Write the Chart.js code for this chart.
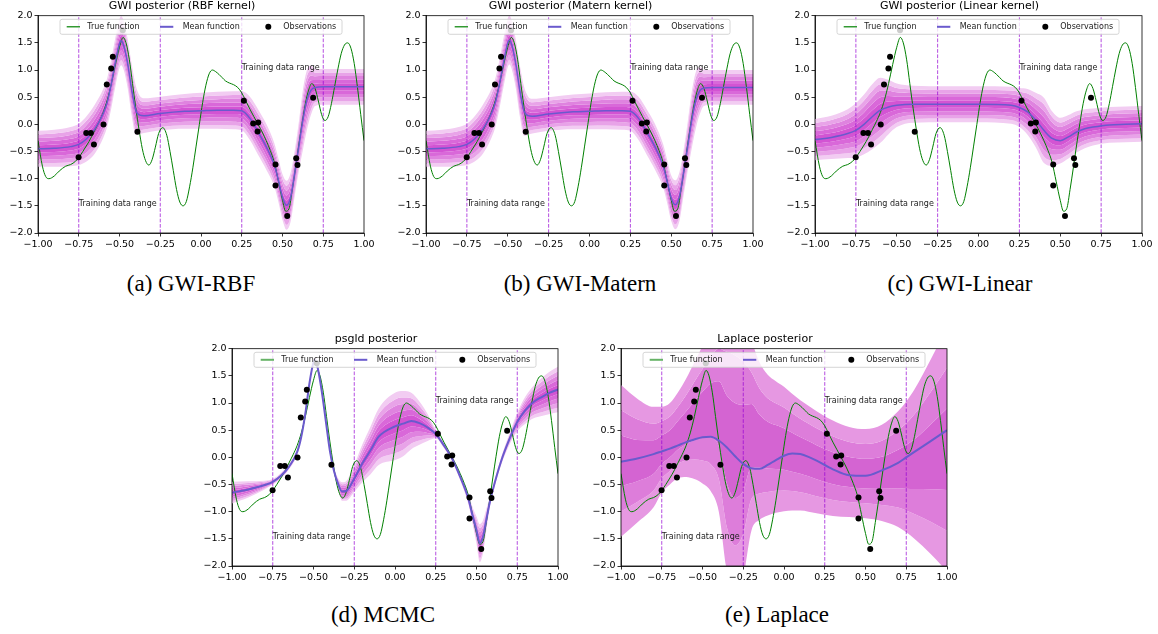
<!DOCTYPE html>
<html>
<head>
<meta charset="utf-8">
<script src="https://cdn.jsdelivr.net/npm/chart.js@4.4.0/dist/chart.umd.min.js"></script>
<style>
  body { margin: 0; background: #fff; width: 1158px; height: 634px; position: relative; overflow: hidden; }
  canvas { position: absolute; }
  .cap { position: absolute; font-family: "Liberation Serif", "Times New Roman", serif; font-size: 23px; line-height: 23px; color: #000; white-space: nowrap; transform: translateX(-50%); }
</style>
</head>
<body>
<canvas id="pa" width="380" height="251" style="left:0px;top:0px"></canvas>
<canvas id="pb" width="381" height="251" style="left:388px;top:0px"></canvas>
<canvas id="pc" width="381" height="251" style="left:777px;top:0px"></canvas>
<canvas id="pd" width="380" height="251" style="left:194px;top:333px"></canvas>
<canvas id="pe" width="380" height="251" style="left:583px;top:333px"></canvas>

<div class="cap" style="left:191px;top:272px">(a) GWI-RBF</div>
<div class="cap" style="left:580px;top:272px">(b) GWI-Matern</div>
<div class="cap" style="left:960px;top:272px">(c) GWI-Linear</div>
<div class="cap" style="left:383px;top:603px">(d) MCMC</div>
<div class="cap" style="left:777px;top:603px">(e) Laplace</div>

<script>
// ---- data ----

// true function (green)
var tfX = [-1, -0.973, -0.953, -0.933, -0.9, -0.87, -0.83, -0.8, -0.77, -0.75, -0.725, -0.7, -0.675, -0.65, -0.625, -0.6, -0.575, -0.55, -0.525, -0.5, -0.478, -0.46, -0.44, -0.42, -0.4, -0.38, -0.36, -0.34, -0.32, -0.3, -0.28, -0.26, -0.235, -0.21, -0.19, -0.17, -0.15, -0.13, -0.11, -0.09, -0.07, -0.05, -0.03, -0.01, 0.01, 0.03, 0.05, 0.07, 0.09, 0.11, 0.13, 0.15, 0.175, 0.2, 0.225, 0.25, 0.275, 0.3, 0.325, 0.35, 0.375, 0.4, 0.425, 0.45, 0.475, 0.5, 0.52, 0.54, 0.56, 0.58, 0.6, 0.62, 0.64, 0.66, 0.68, 0.7, 0.72, 0.74, 0.76, 0.78, 0.8, 0.82, 0.84, 0.86, 0.88, 0.9, 0.92, 0.94, 0.96, 0.98, 1.0];
var tfY = [-0.3, -0.77, -0.96, -1.0, -0.95, -0.86, -0.77, -0.74, -0.68, -0.61, -0.5, -0.38, -0.25, -0.1, 0.05, 0.22, 0.45, 0.75, 1.1, 1.42, 1.6, 1.5, 1.2, 0.75, 0.3, -0.1, -0.45, -0.67, -0.75, -0.65, -0.42, -0.17, -0.06, -0.2, -0.5, -0.85, -1.2, -1.43, -1.5, -1.42, -1.15, -0.8, -0.4, 0.0, 0.4, 0.72, 0.93, 1.0, 0.97, 0.92, 0.86, 0.8, 0.76, 0.73, 0.68, 0.58, 0.43, 0.28, 0.14, 0.0, -0.14, -0.3, -0.48, -0.7, -1.05, -1.4, -1.6, -1.55, -1.2, -0.8, -0.38, 0.02, 0.38, 0.63, 0.75, 0.66, 0.43, 0.18, 0.07, 0.14, 0.38, 0.7, 1.02, 1.3, 1.46, 1.5, 1.4, 1.12, 0.68, 0.18, -0.3];

// observations (black dots)
var obsX = [-0.751, -0.704, -0.676, -0.657, -0.598, -0.578, -0.551, -0.541, -0.480, -0.390, 0.263, 0.320, 0.351, 0.347, 0.457, 0.457, 0.529, 0.584, 0.592, 0.688];
var obsY = [-0.605, -0.157, -0.157, -0.372, -0.003, 0.734, 1.029, 1.244, 1.730, -0.138, 0.433, 0.015, 0.034, -0.132, -0.740, -1.127, -1.687, -0.624, -0.747, 0.488];

// GWI RBF kernel: mean and outer band half-width
var rbfX = [-1, -0.9, -0.8, -0.75, -0.7, -0.65, -0.6, -0.575, -0.55, -0.525, -0.5, -0.49, -0.475, -0.45, -0.425, -0.4, -0.375, -0.35, -0.25, -0.1, 0, 0.1, 0.2, 0.25, 0.3, 0.35, 0.4, 0.45, 0.475, 0.5, 0.525, 0.55, 0.575, 0.6, 0.625, 0.65, 0.675, 0.7, 0.75, 0.85, 1.0];
var rbfMean = [-0.45, -0.44, -0.41, -0.37, -0.26, -0.08, 0.2, 0.41, 0.75, 1.15, 1.49, 1.54, 1.46, 1.12, 0.63, 0.26, 0.17, 0.16, 0.2, 0.24, 0.25, 0.26, 0.26, 0.25, 0.11, -0.14, -0.41, -0.75, -1.03, -1.34, -1.49, -1.34, -0.9, -0.41, 0.08, 0.45, 0.63, 0.68, 0.69, 0.69, 0.69];
var rbfSd = [0.33, 0.34, 0.36, 0.38, 0.42, 0.45, 0.45, 0.45, 0.45, 0.45, 0.45, 0.45, 0.45, 0.45, 0.47, 0.45, 0.35, 0.32, 0.31, 0.32, 0.33, 0.34, 0.35, 0.36, 0.4, 0.42, 0.42, 0.4, 0.4, 0.42, 0.45, 0.45, 0.42, 0.45, 0.55, 0.55, 0.45, 0.34, 0.33, 0.33, 0.33];

// GWI Matern kernel
var matX = [-1, -0.9, -0.8, -0.75, -0.7, -0.65, -0.6, -0.575, -0.55, -0.525, -0.5, -0.49, -0.475, -0.45, -0.425, -0.4, -0.375, -0.35, -0.25, -0.1, 0, 0.1, 0.2, 0.25, 0.3, 0.35, 0.4, 0.45, 0.475, 0.5, 0.525, 0.55, 0.575, 0.6, 0.625, 0.65, 0.675, 0.7, 0.75, 0.85, 1.0];
var matMean = [-0.45, -0.44, -0.41, -0.37, -0.26, -0.08, 0.2, 0.41, 0.75, 1.15, 1.5, 1.55, 1.46, 1.1, 0.6, 0.24, 0.16, 0.15, 0.19, 0.23, 0.24, 0.25, 0.25, 0.24, 0.11, -0.14, -0.41, -0.76, -1.05, -1.36, -1.48, -1.33, -0.9, -0.42, 0.07, 0.44, 0.62, 0.67, 0.68, 0.68, 0.68];
var matSd = [0.33, 0.34, 0.36, 0.38, 0.42, 0.45, 0.45, 0.45, 0.45, 0.45, 0.45, 0.45, 0.45, 0.45, 0.47, 0.45, 0.35, 0.32, 0.31, 0.32, 0.33, 0.34, 0.35, 0.36, 0.4, 0.42, 0.42, 0.4, 0.4, 0.42, 0.45, 0.45, 0.42, 0.45, 0.52, 0.52, 0.43, 0.33, 0.32, 0.32, 0.32];

// GWI Linear kernel
var linX = [-1, -0.9, -0.8, -0.75, -0.7, -0.65, -0.6, -0.55, -0.5, -0.4, -0.2, 0, 0.2, 0.25, 0.3, 0.35, 0.4, 0.45, 0.5, 0.55, 0.6, 0.65, 0.7, 0.8, 0.9, 1.0];
var linMean = [-0.28, -0.24, -0.17, -0.11, 0.0, 0.14, 0.26, 0.32, 0.35, 0.37, 0.37, 0.37, 0.35, 0.31, 0.23, 0.08, -0.11, -0.26, -0.3, -0.23, -0.14, -0.08, -0.05, -0.01, 0.0, 0.01];
var linSd = [0.38, 0.4, 0.45, 0.5, 0.55, 0.6, 0.6, 0.5, 0.4, 0.34, 0.33, 0.33, 0.34, 0.36, 0.42, 0.5, 0.6, 0.5, 0.42, 0.4, 0.38, 0.36, 0.34, 0.33, 0.33, 0.33];

// psgld (MCMC)
var psX = [-1, -0.9, -0.8, -0.75, -0.7, -0.65, -0.6, -0.575, -0.55, -0.525, -0.5, -0.49, -0.475, -0.45, -0.425, -0.4, -0.375, -0.35, -0.325, -0.3, -0.25, -0.2, -0.15, -0.1, 0, 0.05, 0.1, 0.15, 0.2, 0.25, 0.3, 0.35, 0.4, 0.45, 0.475, 0.5, 0.52, 0.54, 0.56, 0.58, 0.6, 0.65, 0.7, 0.75, 0.8, 0.85, 0.9, 0.95, 1.0];
var psMean = [-0.65, -0.59, -0.51, -0.45, -0.34, -0.17, 0.1, 0.38, 0.81, 1.36, 1.75, 1.79, 1.66, 1.23, 0.68, 0.13, -0.24, -0.48, -0.63, -0.62, -0.39, -0.11, 0.13, 0.38, 0.57, 0.62, 0.67, 0.63, 0.55, 0.43, 0.22, -0.02, -0.36, -0.76, -1.06, -1.34, -1.58, -1.46, -1.15, -0.85, -0.6, -0.08, 0.32, 0.65, 0.87, 1.02, 1.11, 1.19, 1.25];
var psSd = [0.2, 0.15, 0.08, 0.05, 0.05, 0.05, 0.05, 0.05, 0.05, 0.05, 0.05, 0.05, 0.05, 0.05, 0.05, 0.05, 0.06, 0.1, 0.17, 0.18, 0.25, 0.35, 0.44, 0.52, 0.62, 0.6, 0.52, 0.4, 0.25, 0.08, 0.05, 0.05, 0.06, 0.1, 0.15, 0.25, 0.35, 0.3, 0.2, 0.1, 0.07, 0.07, 0.1, 0.17, 0.25, 0.3, 0.35, 0.39, 0.42];

// Laplace: mean and outer band edges
var lapX = [-1, -0.9, -0.8, -0.75, -0.7, -0.65, -0.6, -0.55, -0.5, -0.45, -0.4, -0.35, -0.3, -0.25, -0.2, -0.15, -0.1, -0.05, 0, 0.05, 0.1, 0.15, 0.2, 0.3, 0.4, 0.5, 0.6, 0.7, 0.75, 0.8, 0.9, 1.0];
var lapMean = [-0.08, -0.02, 0.06, 0.11, 0.16, 0.22, 0.28, 0.33, 0.37, 0.38, 0.31, 0.18, 0.02, -0.12, -0.2, -0.21, -0.14, -0.05, 0.03, 0.07, 0.06, 0.01, -0.06, -0.22, -0.33, -0.34, -0.24, -0.1, 0.0, 0.1, 0.3, 0.5];
var lapUpper = [1.33, 1.08, 0.93, 0.93, 1.0, 1.2, 1.45, 1.75, 2.05, 2.35, 2.6, 2.75, 2.75, 2.55, 2.15, 1.75, 1.52, 1.4, 1.3, 1.17, 1.05, 0.95, 0.85, 0.68, 0.56, 0.52, 0.6, 0.85, 1.03, 1.25, 1.8, 2.4];
var lapLower = [-1.46, -1.2, -0.92, -0.65, -0.5, -0.38, -0.36, -0.4, -0.48, -0.62, -1.0, -2.1, -2.5, -2.2, -1.35, -1.15, -1.07, -1.02, -0.99, -0.98, -0.98, -1.0, -1.03, -1.08, -1.1, -1.12, -1.17, -1.28, -1.38, -1.5, -1.78, -2.1];

// training range markers and labels
var rangeEdges = [-0.75, -0.25, 0.25, 0.75];
var rangeLabels = [[-0.75, -1.5], [0.25, 1.0]];

// ---- styles ----
var GREEN = '#008000';
var MEAN = '#6a5acd';
var VLINE = 'rgba(148,0,211,0.7)';

function layerColours(base, alpha, n) {
  var out = [];
  for (var d = 1; d <= n; d++) {
    var k = 1 - Math.pow(1 - alpha, d);
    out.push('rgb(' + base.map(function (c) { return Math.round(255 - (255 - c) * k); }).join(',') + ')');
  }
  return out;
}
var gwiColours = layerColours([190, 0, 190], 0.2, 5);
var gwiMults = [1, 0.8, 0.6, 0.4, 0.2];
var lapColours = ['rgb(230,152,226)', 'rgb(221,125,218)', 'rgb(212,100,210)'];
var lapMults = [1, 2 / 3, 1 / 3];

Chart.defaults.font.family = "'DejaVu Sans', sans-serif";
Chart.defaults.color = '#000';
Chart.defaults.animation = false;
Chart.defaults.events = [];
Chart.defaults.plugins.legend.display = false;
Chart.defaults.plugins.tooltip.enabled = false;

function pts(xs, ys) {
  return xs.map(function (x, i) { return { x: x, y: ys[i] }; });
}

function edge(xs, ys, colour, fill) {
  return {
    data: pts(xs, ys), borderColor: 'rgba(0,0,0,0)', borderWidth: 0, pointRadius: 0,
    fill: fill, backgroundColor: colour || 'rgba(0,0,0,0)', cubicInterpolationMode: 'monotone'
  };
}

// nested bands drawn as rings: outer upper ... inner upper, inner lower ... outer lower
function bandSets(xs, centre, half, mults, colours) {
  var sets = [], n = mults.length, i;
  for (i = 0; i < n; i++) {
    sets.push(edge(xs, centre.map(function (c, j) { return c + mults[i] * half[j]; }), colours[i], '+1'));
  }
  for (i = n - 1; i >= 0; i--) {
    sets.push(edge(xs, centre.map(function (c, j) { return c - mults[i] * half[j]; }),
      i > 0 ? colours[i - 1] : null, i > 0 ? '+1' : false));
  }
  return sets;
}

function fmt(v, d) {
  return (v < -1e-9 ? '\u2212' : '') + Math.abs(v).toFixed(d);
}

// spines, range labels and the in-axes legend
var decor = {
  id: 'decor',
  afterDatasetsDraw: function (chart) {
    var ctx = chart.ctx, a = chart.chartArea, sx = chart.scales.x, sy = chart.scales.y;
    var soft = chart.options.plugins.decor.soft;
    ctx.save();
    ctx.font = '8px "DejaVu Sans"';
    ctx.fillStyle = '#222';
    ctx.textAlign = 'left';
    ctx.textBaseline = 'alphabetic';
    rangeLabels.forEach(function (p) {
      ctx.fillText('Training data range', sx.getPixelForValue(p[0]), sy.getPixelForValue(p[1]));
    });

    ctx.strokeStyle = '#000';
    ctx.lineWidth = 0.8;
    ctx.strokeRect(a.left, a.top, a.right - a.left, a.bottom - a.top);

    // legend box
    var bx = a.left + 22, by = a.top + 3.6, bw = 282, bh = 15, my = by + bh / 2;
    ctx.beginPath();
    ctx.roundRect(bx, by, bw, bh, 2);
    ctx.fillStyle = 'rgba(255,255,255,0.8)';
    ctx.fill();
    ctx.strokeStyle = '#cccccc';
    ctx.lineWidth = 0.8;
    ctx.stroke();

    ctx.lineWidth = soft ? 2 : 1.2;
    ctx.strokeStyle = soft ? 'rgba(0,128,0,0.6)' : GREEN;
    ctx.beginPath(); ctx.moveTo(bx + 6.7, my); ctx.lineTo(bx + 20, my); ctx.stroke();
    ctx.lineWidth = 2;
    ctx.strokeStyle = MEAN;
    ctx.beginPath(); ctx.moveTo(bx + 100, my); ctx.lineTo(bx + 113.3, my); ctx.stroke();
    ctx.fillStyle = '#000';
    ctx.beginPath(); ctx.arc(bx + 208.3, my, 3, 0, Math.PI * 2); ctx.fill();

    ctx.fillStyle = '#222';
    ctx.textBaseline = 'middle';
    ctx.fillText('True function', bx + 27.3, my + 0.5);
    ctx.fillText('Mean function', bx + 122.7, my + 0.5);
    ctx.fillText('Observations', bx + 223.3, my + 0.5);
    ctx.restore();
  }
};

function makeChart(p) {
  var sets = [];
  sets.push({ data: pts(obsX, obsY), showLine: false, pointRadius: 3, pointBackgroundColor: '#000', pointBorderWidth: 0 });
  sets.push({ data: pts(p.meanX, p.mean), borderColor: MEAN, borderWidth: p.meanWidth, pointRadius: 0, fill: false, cubicInterpolationMode: 'monotone' });
  sets.push({ data: pts(tfX, tfY), borderColor: GREEN, borderWidth: 1, pointRadius: 0, fill: false, cubicInterpolationMode: 'monotone' });
  rangeEdges.forEach(function (e) {
    sets.push({ data: [{ x: e, y: -2 }, { x: e, y: 2 }], borderColor: VLINE, borderWidth: 1, borderDash: [3.7, 1.6], pointRadius: 0, fill: false });
  });
  sets = sets.concat(bandSets(p.bandX, p.centre, p.half, p.mults, p.colours));

  new Chart(document.getElementById(p.id), {
    type: 'line',
    data: { datasets: sets },
    options: {
      responsive: false,
      layout: { padding: { left: 0, right: 16, top: 0, bottom: 0 } },
      plugins: {
        title: { display: true, text: p.title, color: '#000', font: { size: 11, weight: 'normal', lineHeight: 1.2 }, padding: { top: 0, bottom: 2.5 } },
        decor: { soft: p.soft }
      },
      scales: {
        x: {
          type: 'linear', min: -1, max: 1,
          afterFit: function (s) { s.height = 18; },
          border: { color: '#000', width: 0.8 },
          grid: { drawOnChartArea: false, color: '#000', lineWidth: 0.8, tickLength: 3.5 },
          ticks: { stepSize: 0.25, autoSkip: false, maxRotation: 0, padding: 2, font: { size: 9.5 }, color: '#000', callback: function (v) { return fmt(v, 2); } }
        },
        y: {
          type: 'linear', min: -2, max: 2,
          afterFit: function (s) { s.width = 38; },
          border: { color: '#000', width: 0.8 },
          grid: { drawOnChartArea: false, color: '#000', lineWidth: 0.8, tickLength: 3.5 },
          ticks: { stepSize: 0.5, autoSkip: false, padding: 2, font: { size: 9.5 }, color: '#000', callback: function (v) { return fmt(v, 1); } }
        }
      }
    },
    plugins: [decor]
  });
}

function mid(u, l) { return u.map(function (v, i) { return (v + l[i]) / 2; }); }
function halfw(u, l) { return u.map(function (v, i) { return (v - l[i]) / 2; }); }

var panels = [
  { id: 'pa', title: 'GWI posterior (RBF kernel)', bandX: rbfX, centre: rbfMean, half: rbfSd, mults: gwiMults, colours: gwiColours, meanX: rbfX, mean: rbfMean, meanWidth: 1.5, soft: false },
  { id: 'pb', title: 'GWI posterior (Matern kernel)', bandX: matX, centre: matMean, half: matSd, mults: gwiMults, colours: gwiColours, meanX: matX, mean: matMean, meanWidth: 1.5, soft: false },
  { id: 'pc', title: 'GWI posterior (Linear kernel)', bandX: linX, centre: linMean, half: linSd, mults: gwiMults, colours: gwiColours, meanX: linX, mean: linMean, meanWidth: 1.5, soft: false },
  { id: 'pd', title: 'psgld posterior', bandX: psX, centre: psMean, half: psSd, mults: gwiMults, colours: gwiColours, meanX: psX, mean: psMean, meanWidth: 2, soft: true },
  { id: 'pe', title: 'Laplace posterior', bandX: lapX, centre: mid(lapUpper, lapLower), half: halfw(lapUpper, lapLower), mults: lapMults, colours: lapColours, meanX: lapX, mean: lapMean, meanWidth: 2, soft: true }
];
panels.forEach(makeChart);
</script>
</body>
</html>
